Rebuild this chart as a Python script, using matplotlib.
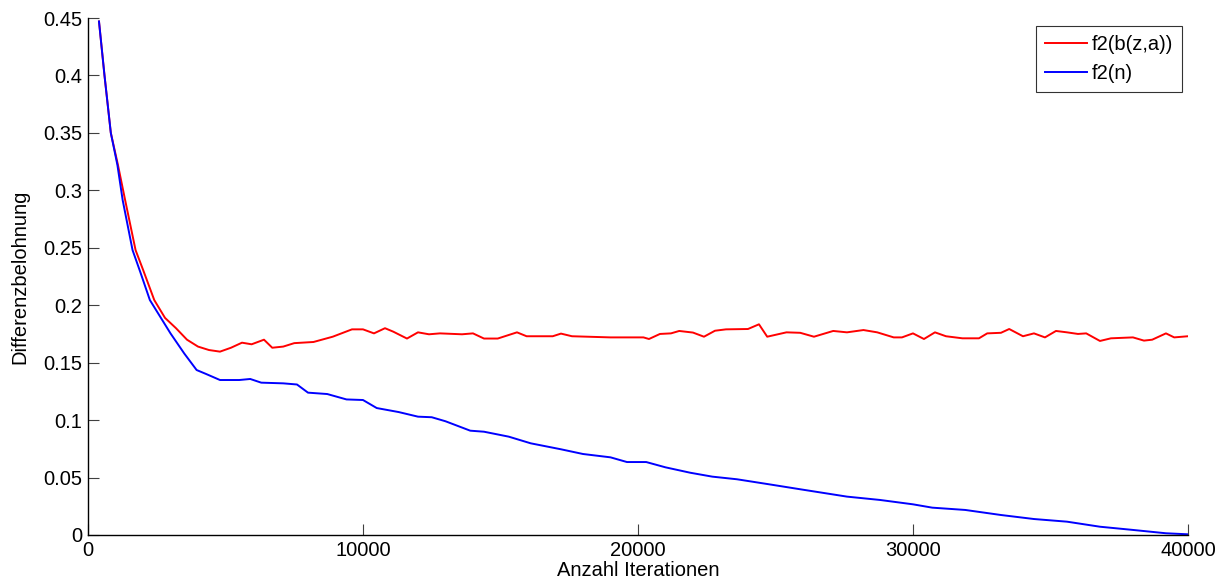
# Differenzbelohnung über Anzahl Iterationen, f2(b(z,a)) gegen f2(n)
import matplotlib.pyplot as plt
from matplotlib.ticker import FuncFormatter

plt.rcParams['font.family'] = ['Liberation Sans', 'DejaVu Sans']

# f2(b(z,a))
iter_bza = [400, 600, 830, 1090, 1350, 1730, 2000, 2410, 2800, 3200, 3600,
            4000, 4400, 4800, 5200, 5600, 5950, 6400, 6700, 7100, 7500, 8200, 8900,
            9600, 10000, 10400, 10800, 11100, 11600, 12000, 12400, 12800, 13600,
            14000, 14400, 14900, 15600, 15950, 16900, 17200, 17600, 19000, 20200,
            20400, 20800, 21200, 21500, 22000, 22400, 22800, 23200, 24000, 24400,
            24700, 25400, 25900, 26400, 27100, 27600, 28200, 28700, 29300, 29600,
            30000, 30400, 30800, 31200, 31800, 32400, 32700, 33200, 33500, 34000,
            34400, 34800, 35200, 35600, 36000, 36300, 36800, 37200, 38000, 38400,
            38700, 39200, 39500, 40000]
val_bza = [0.447, 0.400, 0.350, 0.322, 0.2916, 0.248, 0.231, 0.2045, 0.189,
           0.180, 0.170, 0.164, 0.161, 0.1596, 0.163, 0.1674, 0.166, 0.170, 0.163,
           0.164, 0.167, 0.168, 0.1726, 0.179, 0.179, 0.1755, 0.180, 0.177, 0.171,
           0.1764, 0.1747, 0.1755, 0.1747, 0.1755, 0.171, 0.171, 0.1764, 0.173,
           0.173, 0.1753, 0.173, 0.172, 0.172, 0.1706, 0.175, 0.1755, 0.1776,
           0.1762, 0.1726, 0.1778, 0.179, 0.1793, 0.1834, 0.1726, 0.1764, 0.176,
           0.1726, 0.1776, 0.1764, 0.1784, 0.1764, 0.172, 0.172, 0.1755, 0.1706,
           0.1764, 0.173, 0.1712, 0.1712, 0.1755, 0.176, 0.1793, 0.173, 0.1755,
           0.172, 0.1776, 0.1764, 0.175, 0.1755, 0.1689, 0.1712, 0.172, 0.1692,
           0.170, 0.1755, 0.172, 0.173]

# f2(n)
iter_n = [400, 600, 830, 1070, 1260, 1620, 1900, 2250, 2400, 3000, 3500, 3950, 4300,
          4800, 5500, 5900, 6300, 7100, 7600, 8000, 8700, 9400, 10000, 10500,
          11300, 12000, 12500, 13000, 13900, 14400, 15300, 16100, 17200, 18000,
          19000, 19600, 20300, 21000, 21900, 22700, 23600, 24800, 25900, 27600,
          28800, 30000, 30700, 31900, 33200, 34400, 35600, 36800, 38000, 39200,
          40000]
val_n = [0.447, 0.400, 0.350, 0.322, 0.2916, 0.248, 0.229, 0.2045, 0.1987, 0.1755,
         0.158, 0.1436, 0.1401, 0.1349, 0.1349, 0.1358, 0.1326, 0.132, 0.131, 0.1239,
         0.1227, 0.118, 0.1175, 0.1105, 0.107, 0.103, 0.1025, 0.099, 0.0908,
         0.0899, 0.0856, 0.0798, 0.0746, 0.0705, 0.0676, 0.0635, 0.0635, 0.0589,
         0.0542, 0.0508, 0.0485, 0.044, 0.0398, 0.0334, 0.0305, 0.0267, 0.0238,
         0.0218, 0.0174, 0.0139, 0.0116, 0.0072, 0.0044, 0.0015, 0.0006]

x_ticks = [0, 10000, 20000, 30000, 40000]
y_ticks = [0, 0.05, 0.1, 0.15, 0.2, 0.25, 0.3, 0.35, 0.4, 0.45]

fig = plt.figure(figsize=(12.29, 5.87), dpi=100)
ax = fig.add_axes([0.0716, 0.0886, 0.895, 0.8807])

ax.plot(iter_bza, val_bza, color=(1, 0, 0), lw=1.4, label='f2(b(z,a))')
ax.plot(iter_n, val_n, color=(0, 0, 1), lw=1.4, label='f2(n)')

ax.set_xlim(0, 40000)
ax.set_ylim(0, 0.45)
ax.set_xticks(x_ticks)
ax.set_yticks(y_ticks)
ax.yaxis.set_major_formatter(FuncFormatter(lambda v, p: '%g' % v))
ax.tick_params(direction='in', length=8, width=0.8, labelsize=14.5,
               color='#404040', pad=4)

ax.spines['top'].set_visible(False)
ax.spines['right'].set_visible(False)
for s in ('left', 'bottom'):
    ax.spines[s].set_linewidth(1.0)

ax.set_xlabel('Anzahl Iterationen', fontsize=14.5, labelpad=1)
ax.set_ylabel('Differenzbelohnung', fontsize=14.5, labelpad=10)

leg = ax.legend(loc='upper right', bbox_to_anchor=(0.995, 0.985), fontsize=14.5,
                frameon=True, fancybox=False, handlelength=2.1,
                borderpad=0.45, labelspacing=0.5, handletextpad=0.25,
                borderaxespad=0)
leg.get_frame().set_edgecolor('black')
leg.get_frame().set_linewidth(0.8)

fig.savefig('out.png', dpi=100)
